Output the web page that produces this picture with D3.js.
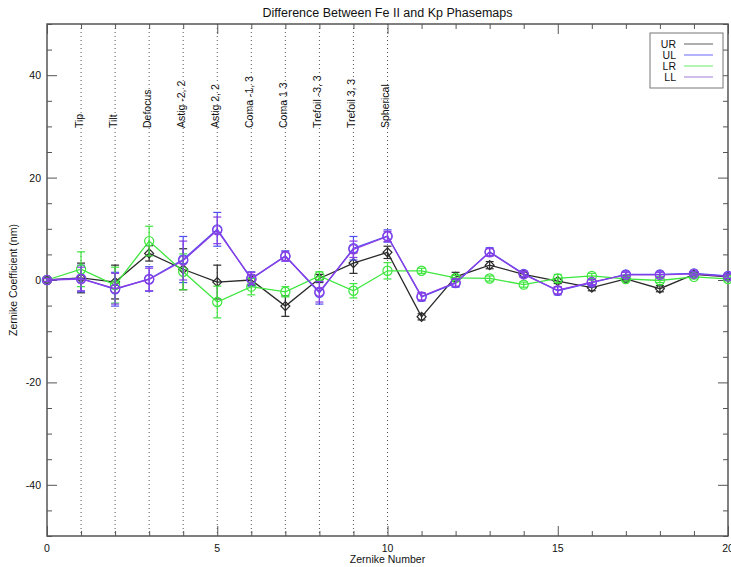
<!DOCTYPE html>
<html>
<head>
<meta charset="utf-8">
<script src="https://cdn.jsdelivr.net/npm/d3@7"></script>
<style>
  html, body { margin: 0; padding: 0; background: #fff; }
  svg { display: block; font-family: "Liberation Sans", Arial, Helvetica, sans-serif; }
</style>
</head>
<body>
<svg id="chart" width="731" height="567"></svg>
<script>
// Zernike mode index (0..20)
const zernike = d3.range(0, 21);

// Named aberration modes marked with dotted guides
const modeNumbers = [1, 2, 3, 4, 5, 6, 7, 8, 9, 10];
const modeNames = ["Tip", "Tilt", "Defocus", "Astig -2, 2", "Astig 2, 2",
                   "Coma -1, 3", "Coma 1 3", "Trefoil -3, 3", "Trefoil 3, 3", "Spherical"];

// Coefficient differences (nm) and 1-sigma errors per quadrant
const urValues = [0, 0.4, -0.4, 5.2, 2.1, -0.4, 0.0, -5.1, 0.3, 3.3, 5.4, -7.2, 0.6, 2.9, 1.1, -0.2, -1.5, 0.2, -1.7, 1.1, 0.6];
const urErrors = [0.3, 2.9, 3.3, 1.5, 4.0, 3.3, 1.0, 2.0, 0.8, 2.0, 1.2, 0.6, 0.9, 0.7, 0.5, 0.5, 0.6, 0.4, 0.6, 0.4, 0.4];

const ulValues = [0, 0.3, -1.8, 0.2, 4.0, 9.9, 0.2, 4.7, -2.5, 6.2, 8.6, -3.3, -0.6, 5.5, 1.2, -2.1, -0.5, 1.1, 1.1, 1.3, 0.8];
const ulErrors = [0.3, 2.6, 3.3, 2.4, 4.5, 3.3, 1.4, 1.0, 2.2, 2.3, 1.2, 0.8, 0.8, 0.8, 0.5, 0.8, 0.6, 0.5, 0.5, 0.4, 0.4];

const lrValues = [0, 2.1, -1.0, 7.6, 1.6, -4.3, -1.3, -2.3, 0.8, -2.1, 1.8, 1.8, 0.4, 0.3, -0.9, 0.3, 0.8, 0.2, -0.1, 0.6, 0.2];
const lrErrors = [0.3, 3.4, 3.5, 2.9, 3.5, 3.1, 1.6, 1.0, 0.8, 1.4, 1.6, 0.5, 0.5, 0.5, 0.5, 0.8, 0.5, 0.4, 0.4, 0.4, 0.4];

const llValues = [0, 0.2, -1.7, 0.1, 3.8, 9.7, 0.3, 4.6, -2.3, 6.0, 8.5, -3.2, -0.5, 5.4, 1.1, -2.0, -0.4, 1.0, 1.0, 1.2, 0.7];
const llErrors = [0.3, 2.3, 3.0, 2.2, 3.8, 2.6, 1.2, 0.9, 2.0, 1.6, 1.0, 0.7, 0.7, 0.7, 0.5, 0.7, 0.5, 0.5, 0.5, 0.4, 0.4];

const yTickValues = [-40, -20, 0, 20, 40];
const xTickValues = [0, 5, 10, 15, 20];

const series = [
  { name: "UR", values: urValues, errors: urErrors, color: "#2a2a2a", symbol: "diamond" },
  { name: "UL", values: ulValues, errors: ulErrors, color: "#4f4ff0", symbol: "circle" },
  { name: "LR", values: lrValues, errors: lrErrors, color: "#3ee63e", symbol: "circle" },
  { name: "LL", values: llValues, errors: llErrors, color: "#8a3ee6", symbol: "circle" }
];

const svg = d3.select("#chart");
const margin = { left: 47, right: 3, top: 24, bottom: 31 };
const W = 731, H = 567;
const x = d3.scaleLinear().domain([0, 20]).range([margin.left, W - margin.right]);
const y = d3.scaleLinear().domain([-50, 50]).range([H - margin.bottom, margin.top]);

const axisColor = "#555";

// Title
svg.append("text")
  .attr("x", (x(0) + x(20)) / 2).attr("y", 17)
  .attr("text-anchor", "middle").attr("font-size", 12.5).attr("fill", "#111")
  .text("Difference Between Fe II and Kp Phasemaps");

// Dotted guides at named modes
svg.append("g").selectAll("line").data(modeNumbers).join("line")
  .attr("x1", d => x(d)).attr("x2", d => x(d))
  .attr("y1", y(50)).attr("y2", y(-50))
  .attr("stroke", "#555").attr("stroke-width", 1).attr("stroke-dasharray", "1,3");

// Mode names, rotated along the guides
svg.append("g").selectAll("text").data(modeNumbers).join("text")
  .attr("transform", (d, i) => `translate(${x(d) + 1.5},128) rotate(-90)`)
  .attr("font-size", 10.5).attr("fill", "#111")
  .text((d, i) => modeNames[i]);

// Axes: ticks on all four sides, labels on bottom and left
function tickAxis(axisFn, scale, ticks, size, tf) {
  const g = svg.append("g").attr("transform", tf)
    .call(axisFn(scale).tickValues(ticks).tickSize(size).tickFormat("").tickSizeOuter(0));
  g.select(".domain").remove();
  g.selectAll("line").attr("stroke", axisColor);
  return g;
}
const xMinor = d3.range(0, 21, 1).filter(v => v % 5 !== 0);
const yMinor = d3.range(-50, 51, 5).filter(v => v % 20 !== 0);

// bottom
tickAxis(d3.axisTop, x, xTickValues, 10, `translate(0,${y(-50)})`);
tickAxis(d3.axisTop, x, xMinor, 5, `translate(0,${y(-50)})`);
// top
tickAxis(d3.axisBottom, x, xTickValues, 10, `translate(0,${y(50)})`);
tickAxis(d3.axisBottom, x, xMinor, 5, `translate(0,${y(50)})`);
// left
tickAxis(d3.axisRight, y, yTickValues, 10, `translate(${x(0)},0)`);
tickAxis(d3.axisRight, y, yMinor, 5, `translate(${x(0)},0)`);
// right
tickAxis(d3.axisLeft, y, yTickValues, 10, `translate(${x(20)},0)`);
tickAxis(d3.axisLeft, y, yMinor, 5, `translate(${x(20)},0)`);

// Frame
svg.append("rect")
  .attr("x", x(0)).attr("y", y(50))
  .attr("width", x(20) - x(0)).attr("height", y(-50) - y(50))
  .attr("fill", "none").attr("stroke", axisColor).attr("stroke-width", 1.5);

// Tick labels
svg.append("g").selectAll("text").data(xTickValues).join("text")
  .attr("x", d => x(d)).attr("y", y(-50) + 16)
  .attr("text-anchor", "middle").attr("font-size", 10.5).attr("fill", "#111")
  .text(d => d);
svg.append("g").selectAll("text").data(yTickValues).join("text")
  .attr("x", x(0) - 6).attr("y", d => y(d) + 4)
  .attr("text-anchor", "end").attr("font-size", 10.5).attr("fill", "#111")
  .text(d => d);

// Axis titles
svg.append("text")
  .attr("x", (x(0) + x(20)) / 2).attr("y", 563)
  .attr("text-anchor", "middle").attr("font-size", 10.5).attr("fill", "#111")
  .text("Zernike Number");
svg.append("text")
  .attr("transform", `translate(17,${y(0)}) rotate(-90)`)
  .attr("text-anchor", "middle").attr("font-size", 10.5).attr("fill", "#111")
  .text("Zernike Coefficient (nm)");

// Data: lines, error bars and markers for each quadrant
const line = d3.line().x((d, i) => x(zernike[i])).y(d => y(d));
const plot = svg.append("g");
series.forEach(s => {
  const g = plot.append("g");
  g.append("path").datum(s.values)
    .attr("d", line).attr("fill", "none")
    .attr("stroke", s.color).attr("stroke-width", 1.3);

  const pts = s.values.map((v, i) => ({ x: zernike[i], v, e: s.errors[i] }));
  const eb = g.append("g").attr("stroke", s.color).attr("stroke-width", 1.2);
  eb.selectAll(".bar").data(pts).join("line")
    .attr("x1", d => x(d.x)).attr("x2", d => x(d.x))
    .attr("y1", d => y(d.v - d.e)).attr("y2", d => y(d.v + d.e));
  eb.selectAll(".capT").data(pts).join("line")
    .attr("x1", d => x(d.x) - 4).attr("x2", d => x(d.x) + 4)
    .attr("y1", d => y(d.v + d.e)).attr("y2", d => y(d.v + d.e));
  eb.selectAll(".capB").data(pts).join("line")
    .attr("x1", d => x(d.x) - 4).attr("x2", d => x(d.x) + 4)
    .attr("y1", d => y(d.v - d.e)).attr("y2", d => y(d.v - d.e));

  const isDiamond = s.symbol === "diamond";
  const sym = d3.symbol().type(isDiamond ? d3.symbolSquare : d3.symbolCircle).size(isDiamond ? 40 : 66);
  g.append("g").selectAll("path").data(pts).join("path")
    .attr("d", sym)
    .attr("transform", d => `translate(${x(d.x)},${y(d.v)})` + (isDiamond ? " rotate(45)" : ""))
    .attr("fill", "none").attr("stroke", s.color).attr("stroke-width", 1.2);
});

// Legend
const lg = svg.append("g");
lg.append("rect").attr("x", 650).attr("y", 33).attr("width", 73).attr("height", 55)
  .attr("fill", "#fff").attr("stroke", "#777").attr("stroke-width", 1);
const legendColors = ["#777", "#8080ff", "#80ee80", "#b090e0"];
series.forEach((s, i) => {
  const yy = 44 + i * 11;
  lg.append("text").attr("x", 676).attr("y", yy + 4).attr("text-anchor", "end")
    .attr("font-size", 10.5).attr("fill", "#111").text(s.name);
  lg.append("line").attr("x1", 684).attr("x2", 713).attr("y1", yy).attr("y2", yy)
    .attr("stroke", legendColors[i]).attr("stroke-width", 1.2);
});
</script>
</body>
</html>
